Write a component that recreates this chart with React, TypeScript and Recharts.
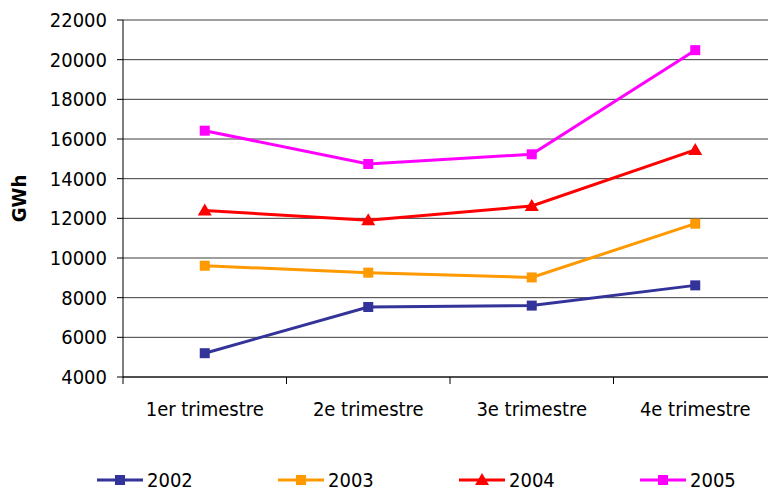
import { CartesianGrid, Legend, Line, LineChart, XAxis, YAxis, Label } from 'recharts'

const quarters = ['1er trimestre', '2e trimestre', '3e trimestre', '4e trimestre']
const y2002 = [5200, 7530, 7600, 8620]
const y2003 = [9610, 9260, 9020, 11730]
const y2004 = [12400, 11900, 12620, 15450]
const y2005 = [16420, 14740, 15230, 20480]
const yTicks = [4000, 6000, 8000, 10000, 12000, 14000, 16000, 18000, 20000, 22000]

const series = [
  { key: 'y2002', name: '2002', color: '#333399', shape: 'square' },
  { key: 'y2003', name: '2003', color: '#FF9900', shape: 'square' },
  { key: 'y2004', name: '2004', color: '#FF0000', shape: 'triangle' },
  { key: 'y2005', name: '2005', color: '#FF00FF', shape: 'square' },
]

const data = quarters.map((q, i) => ({
  x: i + 0.5,
  quarter: q,
  y2002: y2002[i],
  y2003: y2003[i],
  y2004: y2004[i],
  y2005: y2005[i],
}))

const FONT = '"DejaVu Sans Condensed", "DejaVu Sans", sans-serif'

function Marker({ cx, cy, shape, color }: any) {
  if (cx == null || cy == null) return null
  if (shape === 'triangle') {
    return <polygon points={`${cx},${cy - 7} ${cx + 7},${cy + 5} ${cx - 7},${cy + 5}`} fill={color} />
  }
  return <rect x={cx - 5} y={cy - 5} width={10} height={10} fill={color} />
}

function LegendContent() {
  return (
    <div style={{ position: 'relative', fontFamily: FONT, fontSize: 20, lineHeight: '20px', color: '#000', height: 22 }}>
      {series.map((s, i) => (
        <div key={s.key} style={{ position: 'absolute', left: 97 + i * 181, top: 0, height: 22, display: 'flex', alignItems: 'center' }}>
          <svg width={46} height={14}>
            <line x1={0} y1={7} x2={46} y2={7} stroke={s.color} strokeWidth={3} />
            <Marker cx={23} cy={7} shape={s.shape} color={s.color} />
          </svg>
          <span style={{ marginLeft: 4, lineHeight: '20px' }}>{s.name}</span>
        </div>
      ))}
    </div>
  )
}

export default function App() {
  return (
    <div style={{ position: 'absolute', left: 0, top: 0, width: 768, height: 491, overflow: 'hidden', background: '#fff' }}>
      <LineChart width={788} height={491} data={data} margin={{ top: 20, right: 11, bottom: 0, left: 0 }}>
        <CartesianGrid vertical={false} stroke="#3c3c3c" />
        <XAxis
          type="number"
          dataKey="x"
          domain={[0, 4]}
          ticks={[0, 1, 2, 3, 4]}
          tickFormatter={() => ''}
          tickSize={7}
          height={8}
          stroke="#000"
          interval={0}
        />
        <XAxis
          xAxisId="labels"
          type="number"
          dataKey="x"
          domain={[0, 4]}
          ticks={[0.5, 1.5, 2.5, 3.5]}
          tickFormatter={(v: number) => quarters[Math.floor(v)]}
          axisLine={false}
          tickLine={false}
          tickSize={6}
          tickMargin={11}
          height={84}
          interval={0}
          tick={{ fill: '#000', fontSize: 20, fontFamily: FONT }}
        />
        <YAxis
          domain={[4000, 22000]}
          ticks={yTicks}
          interval={0}
          width={123}
          tickSize={6}
          tickMargin={10}
          stroke="#000"
          tick={{ fill: '#000', fontSize: 20, fontFamily: FONT }}
        >
          <Label
            value="GWh"
            angle={-90}
            position="insideLeft"
            offset={19}
            style={{ fontWeight: 'bold', fontSize: 20, fontFamily: FONT, fill: '#000', textAnchor: 'middle' }}
          />
        </YAxis>
        {series.map(s => (
          <Line
            key={s.key}
            dataKey={s.key}
            name={s.name}
            stroke={s.color}
            strokeWidth={3}
            isAnimationActive={false}
            dot={(p: any) => <Marker key={p.index} cx={p.cx} cy={p.cy} shape={s.shape} color={s.color} />}
            activeDot={false}
          />
        ))}
        <Legend verticalAlign="bottom" content={<LegendContent />} wrapperStyle={{ left: 0, width: 768, height: 22, bottom: 0 }} />
      </LineChart>
    </div>
  )
}
